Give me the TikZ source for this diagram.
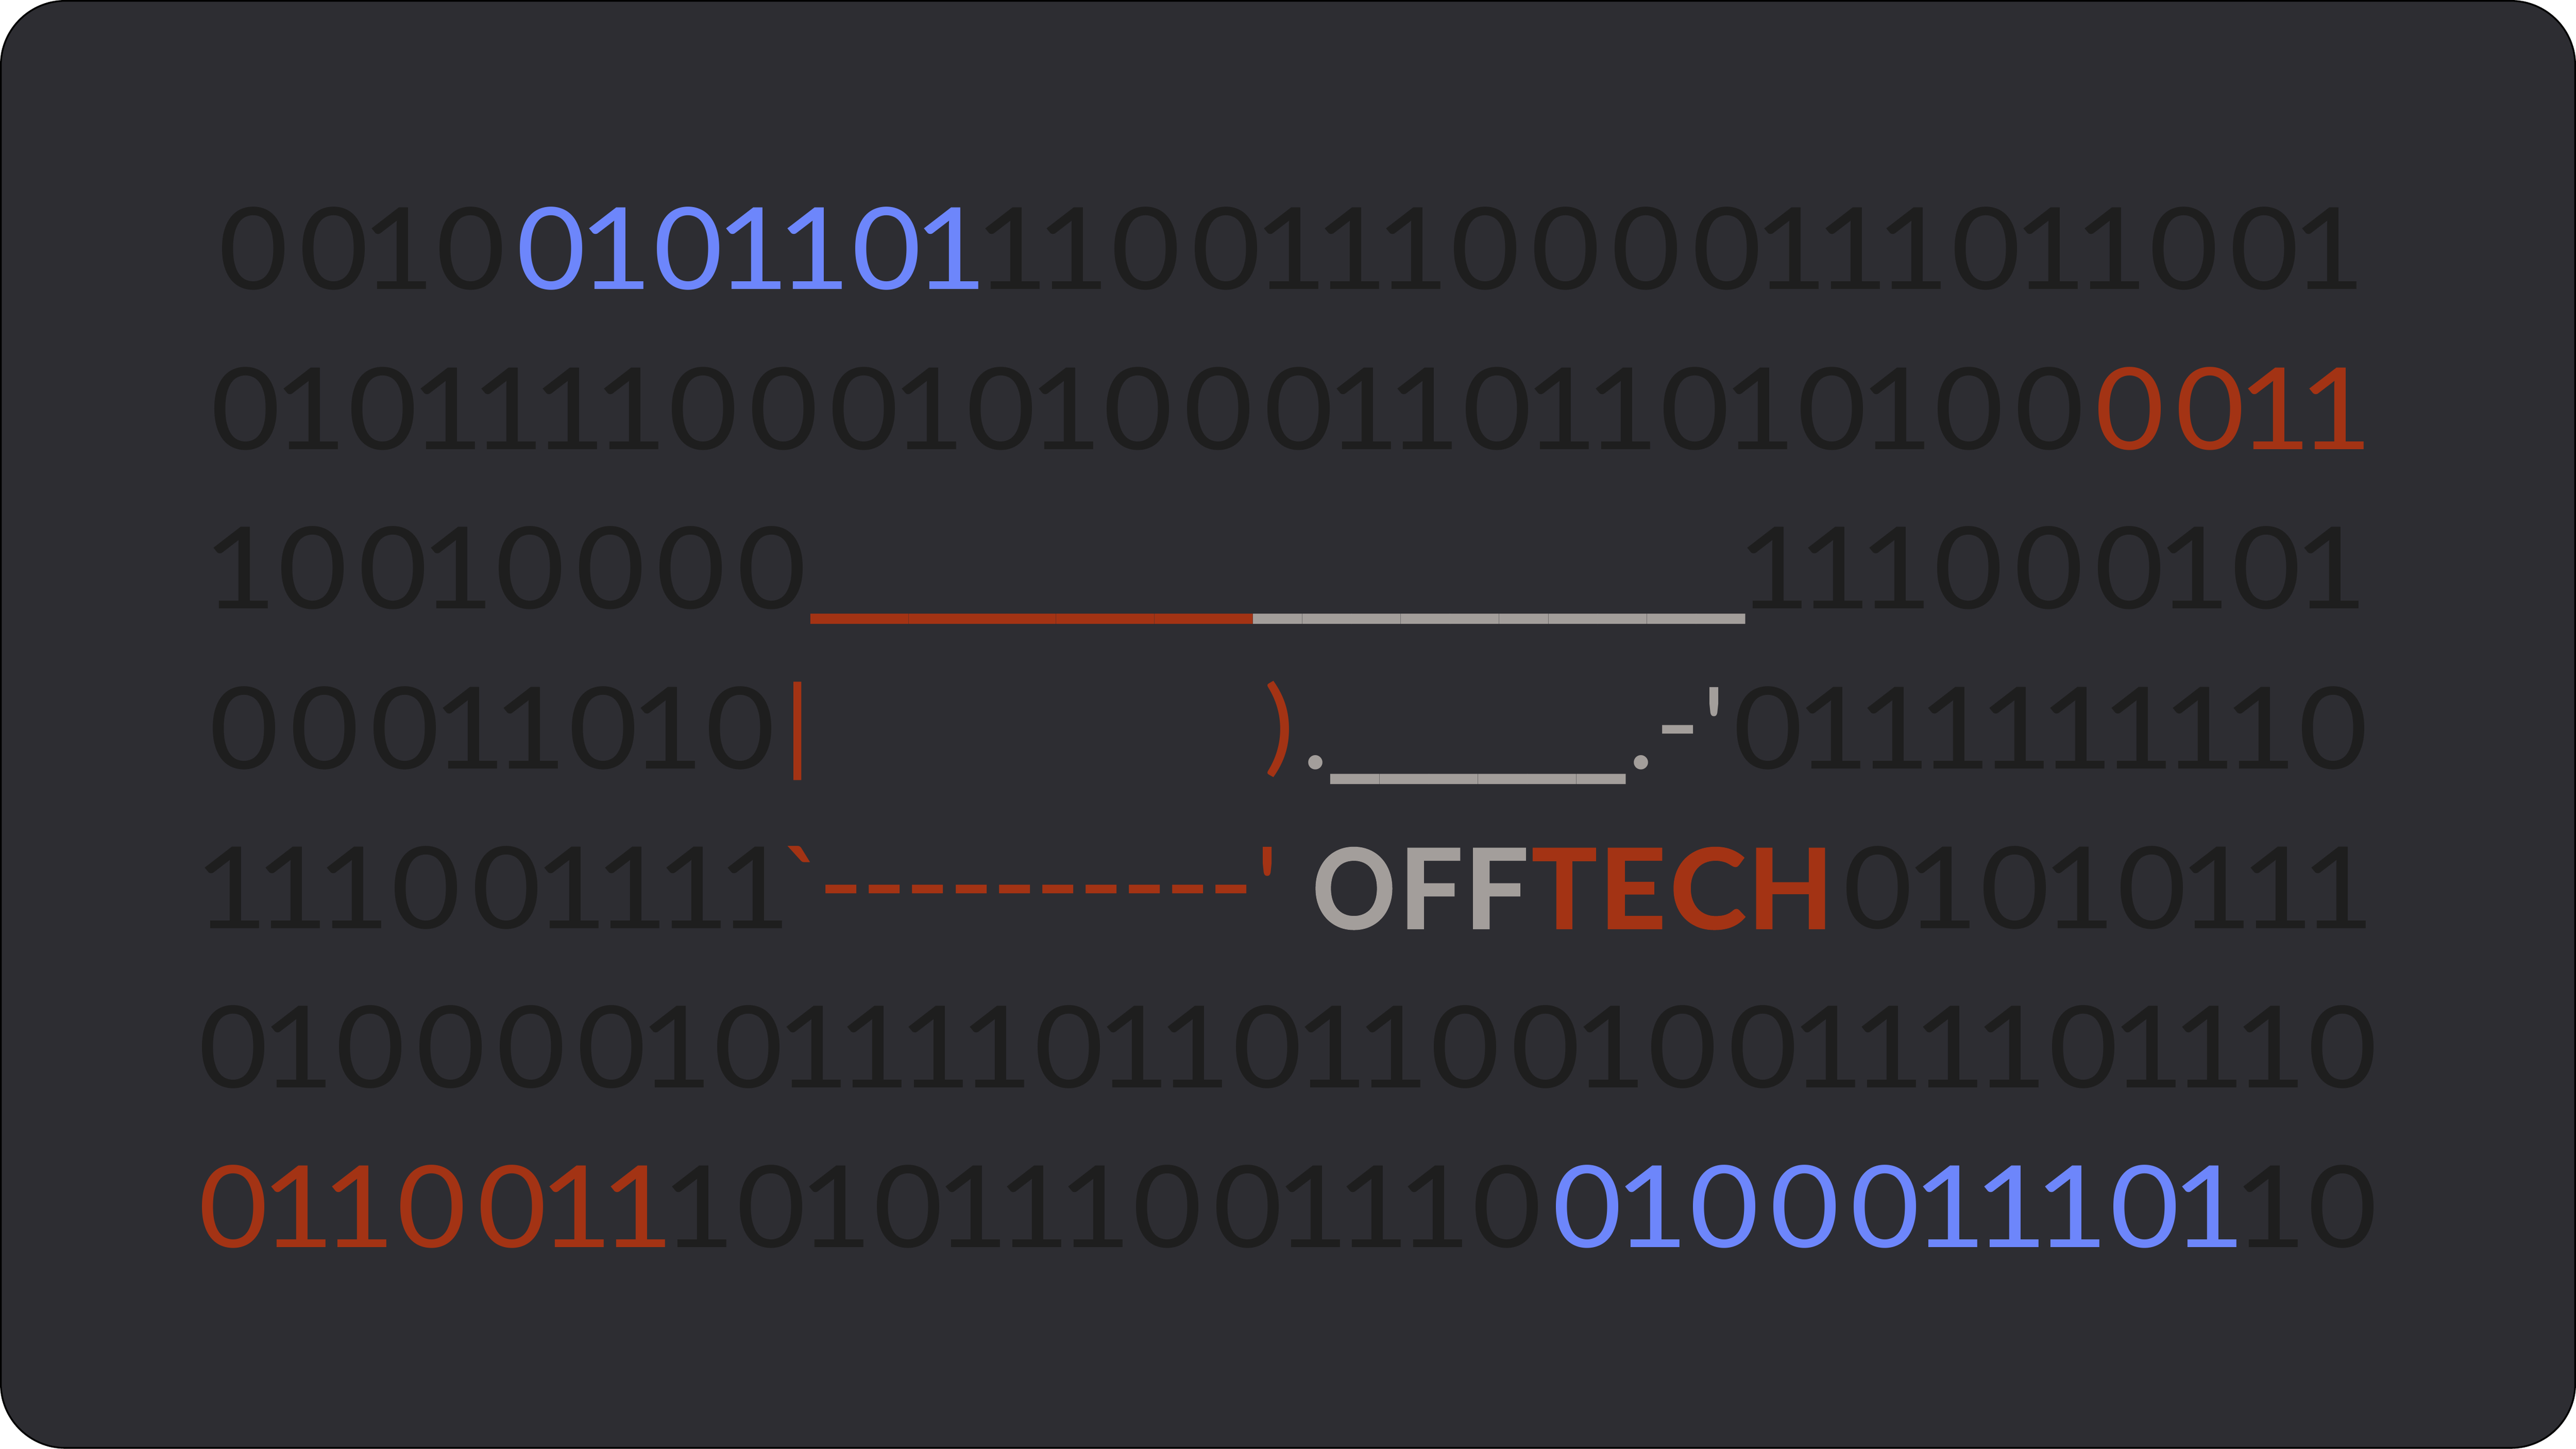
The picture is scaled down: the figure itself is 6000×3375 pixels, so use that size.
\documentclass[tikz,border=0pt]{standalone}
\usepackage{fontspec}
\usepackage{graphicx}
\setmainfont{Lato}
\newfontfamily\rawf[Ligatures=TeXOff]{Lato}
\newfontfamily\brandf[BoldFeatures={FakeBold=1.2}]{Lato}
\definecolor{bgc}{HTML}{2D2D32}
\definecolor{darkd}{HTML}{1E1E1E}
\definecolor{bluec}{HTML}{6D86FB}
\definecolor{redc}{HTML}{A33314}
\definecolor{grayc}{HTML}{A39E9B}
\newdimen\pxu \pxu=0.142264pt
\gdef\prevd{x}
\newcommand\dig[1]{%
  \if#1\prevd\else\if x\prevd\else\kern-5.3\pxu\fi\fi
  \gdef\prevd{#1}%
  \if#10\makebox[187.5\pxu][c]{\scalebox{1.055}[1]{0}}\else\makebox[142.5\pxu][c]{\kern-19.6\pxu\scalebox{1.12}[1]{1}}\fi}
\def\binloop#1{\ifx#1\relax\else\dig{#1}\expandafter\binloop\fi}
\newcommand\bin[1]{\binloop#1\relax}
\newcommand\rep[3]{\foreach \i in {1,...,#1}{\makebox[#2\pxu][c]{#3}}}
\newcommand\usc{\raisebox{21\pxu}{\scalebox{1.1}[1.5]{\_}}}
\newcommand\hyp{\raisebox{12\pxu}{\scalebox{1.1}[1]{-}}}
\newcommand\tall[1]{\raisebox{16\pxu}{\scalebox{1}[0.92]{#1}}}
\newcommand\lett[3]{\makebox[0pt][l]{\kern#1\pxu\scalebox{#2}[1]{#3}}}
\tikzset{
  base font/.style={font=\fontsize{37.7}{40}\selectfont},
  txt/.style={inner sep=0pt,outer sep=0pt,anchor=base west,text=darkd,base font,execute at begin node={\gdef\prevd{x}}},
  sym/.style={inner sep=0pt,outer sep=0pt,anchor=base,base font},
  brand/.style={inner sep=0pt,outer sep=0pt,anchor=base west,font=\fontsize{36.8}{40}\selectfont\brandf\bfseries}
}
\begin{document}
\begin{tikzpicture}[x=0.005cm,y=-0.005cm]
\useasboundingbox (0,0) rectangle (6000,3375);
\draw[fill=bgc,draw=black,line width=0.02cm,rounded corners=0.75cm] (2,2) rectangle (5998,3373);
% row 1
\node[txt] (r1) at (497,674) {\bin{0010}\textcolor{bluec}{\bin{0101101}}\bin{11001110000111011001}};
% row 2
\node[txt] (r2) at (479,1047) {\bin{010111100010100011011010100}\textcolor{redc}{\bin{0011}}};
% row 3
\node[txt] (r3a) at (498,1418) {\bin{10010000}};
\node[txt,text=redc] (r3u) at (1888,1418) {\rep{9}{114.6}{\usc}};
\node[txt,text=grayc] (r3v) at (2919,1418) {\rep{10}{114.8}{\usc}};
\node[txt] (r3b) at (4070,1418) {\bin{111000101}};
% row 4
\node[txt] (r4a) at (475,1791) {\bin{00011010}};
\node[sym,text=redc] (r4p) at (1858,1791) {\tall{|}};
\node[sym,text=redc] (r4q) at (2980,1791) {\tall{)}};
\node[sym,text=grayc] (r4d) at (3064,1791) {.};
\node[txt,text=grayc] (r4u) at (3099,1791) {\rep{6}{114.7}{\usc}};
\node[sym,text=grayc] (r4e) at (3823,1791) {.};
\node[sym,text=grayc] (r4f) at (3908,1791) {\hyp};
\node[sym,text=grayc] (r4g) at (3992,1791) {\rawf '};
\node[txt] (r4b) at (4025,1791) {\bin{0111111110}};
% row 5
\node[txt] (r5a) at (477,2163) {\bin{111001111}};
\node[sym,text=redc] (r5g) at (1870,2163) {\rawf `};
\node[txt,text=redc] (r5d) at (1909,2163) {\rep{10}{101}{\hyp}};
\node[sym,text=redc] (r5h) at (2952,2163) {\rawf '};
\node[brand,text=grayc] (r5o) at (3062,2163) {\lett{-9}{0.93}{O}\lett{193}{1.02}{F}\lett{346}{1.02}{F}};
\node[brand,text=redc] (r5t) at (3567,2163) {\lett{-3}{0.98}{T}\lett{154}{1.05}{E}\lett{319}{1.04}{C}\lett{501}{1}{H}};
\node[txt] (r5b) at (4280,2163) {\bin{01010111}};
% row 6
\node[txt] (r6) at (450,2534) {\bin{01000010111101101100100111101110}};
% row 7
\node[txt] (r7) at (450,2906) {\textcolor{redc}{\bin{0110011}}\bin{1010111001110}\textcolor{bluec}{\bin{0100011101}}\bin{10}};
\end{tikzpicture}
\end{document}
